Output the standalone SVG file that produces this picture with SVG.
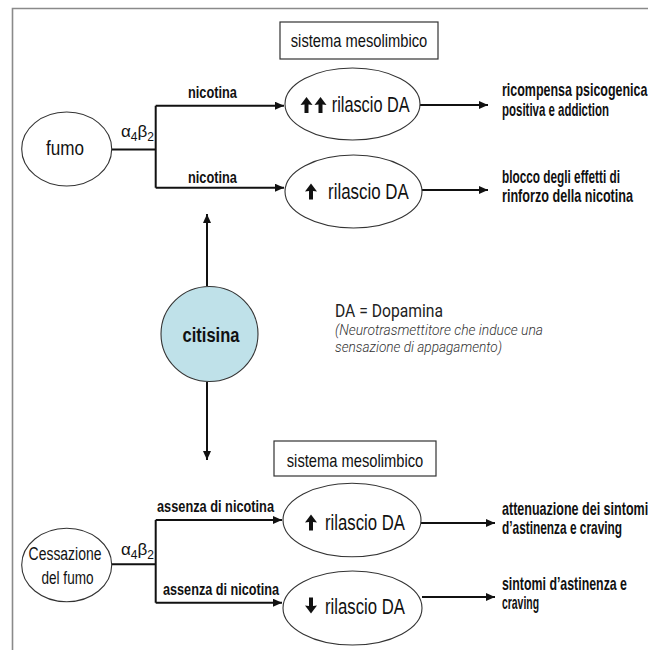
<svg xmlns="http://www.w3.org/2000/svg" width="648" height="650" viewBox="0 0 648 650">
<defs>
<style>
.n{font-family:"Liberation Sans",Arial,sans-serif;fill:#111}
.b{font-weight:bold}
.m{text-anchor:middle}
.ic{fill:#111}
.node{fill:#fff;stroke:#333;stroke-width:1.1}
.box{fill:#fff;stroke:#333;stroke-width:1.2}
.ln{fill:none;stroke:#111;stroke-width:2}
.my{font-family:Roboto,"Liberation Sans",sans-serif;fill:#222}
.it{font-family:Roboto,"Liberation Sans",sans-serif;font-style:italic;font-weight:300;fill:#333}
</style>
<marker id="ah" markerUnits="userSpaceOnUse" markerWidth="10" markerHeight="9" refX="9" refY="4" orient="auto">
<path d="M0,0 L9,4 L0,8 z" fill="#111"/>
</marker>
</defs>
<rect width="648" height="650" fill="#fff"/>
<path d="M12.5,650 V8.5 H648" fill="none" stroke="#8a8a8a" stroke-width="1.6"/>

<g id="connectors">
<path class="ln" d="M112,149.5 H155.7 M155.7,105.7 V187.7"/>
<path class="ln" d="M155.7,105.7 H284" marker-end="url(#ah)"/>
<path class="ln" d="M155.7,187.7 H284" marker-end="url(#ah)"/>
<path class="ln" d="M420,105 H488" marker-end="url(#ah)"/>
<path class="ln" d="M422,190 H488" marker-end="url(#ah)"/>
<path class="ln" d="M207,286 V214" marker-end="url(#ah)"/>
<path class="ln" d="M207,382 V460" marker-end="url(#ah)"/>
<path class="ln" d="M112,564.3 H155.7 M155.7,520 V602.7"/>
<path class="ln" d="M155.7,520 H282" marker-end="url(#ah)"/>
<path class="ln" d="M155.7,602.7 H282" marker-end="url(#ah)"/>
<path class="ln" d="M421,523 H495" marker-end="url(#ah)"/>
<path class="ln" d="M422,597 H495" marker-end="url(#ah)"/>
</g>

<g id="box-top">
<rect class="box" x="280" y="22" width="158" height="37"/>
<text class="n m" transform="translate(359 47) scale(0.78 1)" font-size="18.5" textLength="175" lengthAdjust="spacingAndGlyphs">sistema mesolimbico</text>
</g>

<g id="fumo">
<ellipse class="node" cx="66.7" cy="149" rx="45" ry="37"/>
<text class="n m" transform="translate(65 155) scale(0.8 1)" font-size="20" textLength="47.5" lengthAdjust="spacingAndGlyphs">fumo</text>
</g>

<g id="labels-top">
<text class="n" x="121" y="137" font-size="17">α<tspan font-size="12" dy="4">4</tspan><tspan dy="-4">β</tspan><tspan font-size="12" dy="4">2</tspan></text>
<text class="n b" transform="translate(188 98) scale(0.75 1)" font-size="17" textLength="65.3" lengthAdjust="spacingAndGlyphs">nicotina</text>
<text class="n b" transform="translate(188 183) scale(0.75 1)" font-size="17" textLength="65.3" lengthAdjust="spacingAndGlyphs">nicotina</text>
</g>

<g id="rilascio-1">
<ellipse class="node" cx="352.5" cy="104" rx="67.5" ry="36"/>
<path class="ic" d="M306.5,97 L312.5,105 L308.5,104.5 L308.5,113 L304.5,113 L304.5,104.5 L300.5,105 Z"/>
<path class="ic" d="M320.5,97 L326.5,105 L322.5,104.5 L322.5,113 L318.5,113 L318.5,104.5 L314.5,105 Z"/>
<text class="n" transform="translate(331.7 111.5) scale(0.8 1)" font-size="21.5" textLength="97.5" lengthAdjust="spacingAndGlyphs">rilascio DA</text>
</g>

<g id="rilascio-2">
<ellipse class="node" cx="353.5" cy="191.5" rx="68.5" ry="36.5"/>
<path class="ic" d="M311,183.5 L317,191.5 L313,191 L313,199.5 L309,199.5 L309,191 L305,191.5 Z"/>
<text class="n" transform="translate(328 198.5) scale(0.8 1)" font-size="21.5" textLength="101" lengthAdjust="spacingAndGlyphs">rilascio DA</text>
</g>

<g id="esito-1">
<text class="n b" transform="translate(502 96) scale(0.72 1)" font-size="17.5" textLength="202" lengthAdjust="spacingAndGlyphs">ricompensa psicogenica</text>
<text class="n b" transform="translate(502 115.5) scale(0.72 1)" font-size="17.5" textLength="148.6" lengthAdjust="spacingAndGlyphs">positiva e addiction</text>
</g>
<g id="esito-2">
<text class="n b" transform="translate(502 182.5) scale(0.72 1)" font-size="17.5" textLength="163.9" lengthAdjust="spacingAndGlyphs">blocco degli effetti di</text>
<text class="n b" transform="translate(502 202) scale(0.72 1)" font-size="17.5" textLength="182" lengthAdjust="spacingAndGlyphs">rinforzo della nicotina</text>
</g>

<g id="citisina">
<ellipse cx="209.5" cy="334" rx="48.5" ry="47.5" fill="#bfe1e9" stroke="#333" stroke-width="1.1"/>
<text class="n b m" transform="translate(211 342) scale(0.8 1)" font-size="21" textLength="71" lengthAdjust="spacingAndGlyphs">citisina</text>
</g>

<g id="legenda">
<text class="my" transform="translate(335 316.5) scale(0.85 1)" font-size="19" textLength="127" lengthAdjust="spacingAndGlyphs">DA = Dopamina</text>
<text class="it" transform="translate(335 335) scale(0.85 1)" font-size="14.5" textLength="244.7" lengthAdjust="spacingAndGlyphs">(Neurotrasmettitore che induce una</text>
<text class="it" transform="translate(335 352) scale(0.85 1)" font-size="14.5" textLength="196.5" lengthAdjust="spacingAndGlyphs">sensazione di appagamento)</text>
</g>

<g id="box-bottom">
<rect class="box" x="274" y="441" width="162" height="35"/>
<text class="n m" transform="translate(355 466.5) scale(0.78 1)" font-size="18.5" textLength="175" lengthAdjust="spacingAndGlyphs">sistema mesolimbico</text>
</g>

<g id="cessazione">
<ellipse class="node" cx="66.7" cy="565" rx="45" ry="36.7"/>
<text class="n m" transform="translate(65 560) scale(0.8 1)" font-size="19" textLength="91" lengthAdjust="spacingAndGlyphs">Cessazione</text>
<text class="n m" transform="translate(67.5 583.5) scale(0.8 1)" font-size="19" textLength="65" lengthAdjust="spacingAndGlyphs">del fumo</text>
</g>

<g id="labels-bottom">
<text class="n" x="121" y="555" font-size="17">α<tspan font-size="12" dy="4">4</tspan><tspan dy="-4">β</tspan><tspan font-size="12" dy="4">2</tspan></text>
<text class="n b" transform="translate(157 512) scale(0.75 1)" font-size="17" textLength="156" lengthAdjust="spacingAndGlyphs">assenza di nicotina</text>
<text class="n b" transform="translate(163 595) scale(0.75 1)" font-size="17" textLength="154.7" lengthAdjust="spacingAndGlyphs">assenza di nicotina</text>
</g>

<g id="rilascio-3">
<ellipse class="node" cx="352" cy="520" rx="69" ry="36.7"/>
<path class="ic" d="M311,514.5 L317,522.5 L313,522 L313,530.5 L309,530.5 L309,522 L305,522.5 Z"/>
<text class="n" transform="translate(325 529.5) scale(0.8 1)" font-size="21.5" textLength="100" lengthAdjust="spacingAndGlyphs">rilascio DA</text>
</g>

<g id="rilascio-4">
<ellipse class="node" cx="352.5" cy="608" rx="69.5" ry="37"/>
<path class="ic" d="M311,613.5 L317,605.5 L313,606 L313,597.5 L309,597.5 L309,606 L305,605.5 Z"/>
<text class="n" transform="translate(325 613.5) scale(0.8 1)" font-size="21.5" textLength="100" lengthAdjust="spacingAndGlyphs">rilascio DA</text>
</g>

<g id="esito-3">
<text class="n b" transform="translate(502 514.5) scale(0.72 1)" font-size="17.5" textLength="203" lengthAdjust="spacingAndGlyphs">attenuazione dei sintomi</text>
<text class="n b" transform="translate(502 534) scale(0.72 1)" font-size="17.5" textLength="166.7" lengthAdjust="spacingAndGlyphs">d’astinenza e craving</text>
</g>
<g id="esito-4">
<text class="n b" transform="translate(502 589.5) scale(0.72 1)" font-size="17.5" textLength="173.6" lengthAdjust="spacingAndGlyphs">sintomi d’astinenza e</text>
<text class="n b" transform="translate(502 609) scale(0.72 1)" font-size="17.5" textLength="51.4" lengthAdjust="spacingAndGlyphs">craving</text>
</g>
</svg>
